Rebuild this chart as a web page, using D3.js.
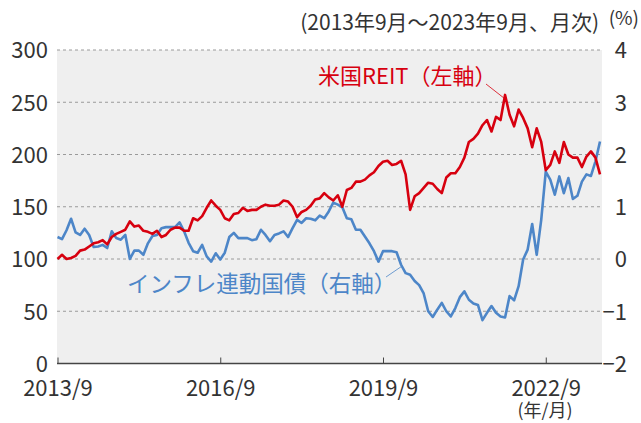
<!DOCTYPE html>
<html>
<head>
<meta charset="utf-8">
<script src="https://cdn.jsdelivr.net/npm/d3@7"></script>
<style>
  body { margin: 0; background: #fff; }
  svg text { font-family: "Noto Sans CJK JP", "Noto Sans", sans-serif; fill: #333; }
</style>
</head>
<body>
<div id="chart"></div>
<script>
var reitColor = "#d7000f";
var tipsColor = "#4d86c8";

// 2013/9 .. 2023/9 monthly (121 points)
var reit = [
  100, 104, 100, 101, 103, 108, 109, 112, 115, 116,
  118, 114, 121, 124, 126, 128, 136, 131, 132, 127,
  126, 124, 127, 121, 123, 128, 130, 130, 127, 127,
  139, 137, 141, 149, 156, 151, 147, 139, 137, 143,
  144, 149, 146, 147, 147, 150, 152, 151, 151, 152,
  156, 155, 150, 140, 145, 147, 151, 157, 158, 163,
  159, 156, 161, 150, 166, 168, 174, 174, 176, 180,
  183, 189, 193, 194, 190, 191, 194, 181, 147, 160,
  163, 168, 173, 172, 167, 163, 178, 182, 182, 188,
  197, 212, 215, 220, 228, 233, 222, 236, 233, 257,
  238, 227, 243, 235, 225, 207, 225, 212, 185, 190,
  203, 192, 212, 200, 197, 197, 188, 198, 203, 197, 181
];
var tips = [
  0.42, 0.38, 0.55, 0.77, 0.51, 0.46, 0.58, 0.46, 0.23, 0.24,
  0.27, 0.21, 0.53, 0.40, 0.37, 0.46, 0.00, 0.16, 0.16, 0.08,
  0.30, 0.44, 0.46, 0.59, 0.61, 0.61, 0.61, 0.70, 0.53, 0.31,
  0.15, 0.12, 0.27, 0.05, -0.05, 0.11, -0.01, 0.12, 0.42, 0.50,
  0.40, 0.40, 0.40, 0.36, 0.38, 0.56, 0.46, 0.34, 0.46, 0.49,
  0.53, 0.42, 0.59, 0.75, 0.69, 0.78, 0.77, 0.74, 0.83, 0.78,
  0.91, 1.08, 1.04, 0.99, 0.78, 0.76, 0.56, 0.56, 0.43, 0.30,
  0.15, -0.05, 0.15, 0.15, 0.15, 0.13, -0.11, -0.27, -0.30, -0.42,
  -0.50, -0.66, -1.00, -1.11, -0.97, -0.84, -1.00, -1.10, -0.94, -0.73,
  -0.62, -0.78, -0.85, -0.88, -1.17, -1.03, -0.90, -1.03, -1.10, -1.12,
  -0.71, -0.79, -0.52, -0.01, 0.18, 0.67, 0.08, 0.75, 1.67, 1.52,
  1.23, 1.58, 1.26, 1.55, 1.15, 1.21, 1.48, 1.62, 1.59, 1.87, 2.25
];
var xTickIdx = [0, 36, 72, 108];
var xTickLabels = ["2013/9", "2016/9", "2019/9", "2022/9"];
var leftTicks = [0, 50, 100, 150, 200, 250, 300];
var rightTicks = [-2, -1, 0, 1, 2, 3, 4];

var svg = d3.select("#chart").append("svg")
    .attr("width", 641)
    .attr("height", 423);

var pLeft = 57, pRight = 602, pTop = 50, pBottom = 363.5;

var x = d3.scaleLinear().domain([0, 120]).range([57.5, 600]);
var yL = d3.scaleLinear().domain([0, 300]).range([pBottom, pTop]);
var yR = d3.scaleLinear().domain([-2, 4]).range([pBottom, pTop]);

// plot background
svg.append("rect")
    .attr("x", pLeft).attr("y", pTop)
    .attr("width", pRight - pLeft).attr("height", pBottom - pTop)
    .attr("fill", "#efefef");

// dashed grid
svg.append("g").selectAll("line")
    .data(leftTicks.slice(1))
  .enter().append("line")
    .attr("x1", pLeft).attr("x2", pRight)
    .attr("y1", function(d) { return yL(d); })
    .attr("y2", function(d) { return yL(d); })
    .style("stroke", "#9a9a9a")
    .style("stroke-width", 1)
    .style("stroke-dasharray", "3,3");

// left axis
var gl = svg.append("g")
    .attr("transform", "translate(" + pLeft + ",0)")
    .call(d3.axisLeft(yL).tickValues(leftTicks).tickSize(0).tickPadding(9));
gl.select(".domain").remove();
gl.selectAll("text").style("font-size", "22px").attr("dy", "0.36em");

// right axis
var gr = svg.append("g")
    .attr("transform", "translate(" + pRight + ",0)")
    .call(d3.axisRight(yR).tickValues(rightTicks).tickSize(0).tickFormat(d3.format("d")));
gr.select(".domain").remove();
gr.selectAll("text")
    .style("font-size", "22px")
    .attr("text-anchor", "end")
    .attr("x", 25)
    .attr("dy", "0.36em");

// bottom axis
var gx = svg.append("g")
    .attr("transform", "translate(0," + pBottom + ")")
    .call(d3.axisBottom(x).tickValues(xTickIdx).tickSize(-6).tickSizeOuter(0).tickPadding(17)
      .tickFormat(function(d, i) { return xTickLabels[i]; }));
gx.select(".domain").remove();
gx.selectAll(".tick line").style("stroke", "#444");
gx.selectAll("text").style("font-size", "22px");
svg.append("line")
    .attr("x1", pLeft).attr("x2", pRight)
    .attr("y1", pBottom).attr("y2", pBottom)
    .style("stroke", "#444")
    .style("stroke-width", 1.5);

// lines
var reitLine = d3.line()
    .x(function(d, i) { return x(i); })
    .y(function(d) { return yL(d); });
var tipsLine = d3.line()
    .x(function(d, i) { return x(i); })
    .y(function(d) { return yR(d); });

svg.append("path")
    .datum(tips)
    .attr("d", tipsLine)
    .attr("fill", "none")
    .style("stroke", tipsColor)
    .style("stroke-width", 2.6)
    .style("stroke-linejoin", "round");

svg.append("path")
    .datum(reit)
    .attr("d", reitLine)
    .attr("fill", "none")
    .style("stroke", reitColor)
    .style("stroke-width", 2.6)
    .style("stroke-linejoin", "round");

// labels
svg.append("text")
    .attr("x", 599).attr("y", 30)
    .attr("text-anchor", "end")
    .style("font-size", "21px")
    .text("(2013年9月～2023年9月、月次)");
svg.append("text")
    .attr("x", 639).attr("y", 25)
    .attr("text-anchor", "end")
    .style("font-size", "19px")
    .text("(%)");
svg.append("text")
    .attr("x", 545).attr("y", 417)
    .attr("text-anchor", "middle")
    .style("font-size", "18px")
    .text("(年/月)");

svg.append("text")
    .attr("x", 318).attr("y", 84)
    .style("font-size", "22px")
    .style("fill", reitColor)
    .text("米国REIT（左軸）");
svg.append("line")
    .attr("x1", 486).attr("y1", 84)
    .attr("x2", x(99)).attr("y2", yL(257) + 4)
    .style("stroke", reitColor)
    .style("stroke-width", 0.8);

svg.append("text")
    .attr("x", 127).attr("y", 292)
    .style("font-size", "22.5px")
    .style("fill", tipsColor)
    .text("インフレ連動国債（右軸）");
svg.append("line")
    .attr("x1", 386).attr("y1", 277)
    .attr("x2", x(76)).attr("y2", yR(-0.11) + 2)
    .style("stroke", tipsColor)
    .style("stroke-width", 0.8);
</script>
</body>
</html>
